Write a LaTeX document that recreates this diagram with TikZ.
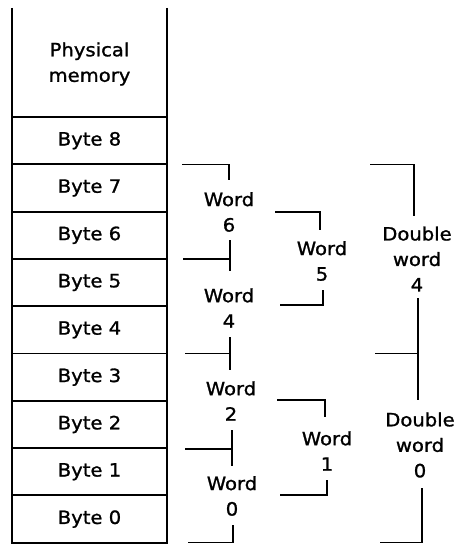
\documentclass[tikz,border=0pt]{standalone}
\usepackage{fontspec}
\setmainfont{DejaVu Sans}[FakeStretch=1.07, FakeBold=1.2]
\begin{document}
\begin{tikzpicture}[x=1pt,y=-1pt,
  lbl/.style={font=\fontsize{18.3}{25.5}\selectfont, align=center, inner sep=0pt},
  cell/.style={lbl, draw, line width=1.9pt, minimum width=155pt, minimum height=47.3pt},
  brk/.style={line width=1.4pt}]
\useasboundingbox (0,0) rectangle (460,545);

% memory column, open at the top
\draw[line width=1.9pt] (12,8) -- (12,542.7);
\draw[line width=1.9pt] (167,8) -- (167,542.7);
\node[lbl] (phys) at (89.5,64) {Physical\\memory};
\foreach \i in {8,...,0} {
  \pgfmathsetmacro{\cy}{117 + 47.3*(8-\i) + 23.65}
  \node[cell] (b\i) at (89.5,\cy) {Byte \i};
}

% word labels
\node[lbl] (w6) at (229,212) {Word\\6};
\node[lbl] (w4) at (229,308) {Word\\4};
\node[lbl] (w2) at (231,401) {Word\\2};
\node[lbl] (w0) at (232,496) {Word\\0};
\node[lbl] (w5) at (322,261) {Word\\5};
\node[lbl] (w1) at (327,451) {Word\\1};
\node[lbl] (d4) at (417,259) {Double\\word\\4};
\node[lbl] (d0) at (420,445) {Double\\word\\0};

% word brackets, first column
\draw[brk] (182,164.3) -- (229,164.3) -- (229,180);
\draw[brk] (183,258.9) -- (230,258.9);
\draw[brk] (230,240) -- (230,271);
\draw[brk] (185,353.5) -- (230,353.5);
\draw[brk] (230,337) -- (230,370);
\draw[brk] (185,449) -- (232,449);
\draw[brk] (232,430) -- (232,466);
\draw[brk] (188,542.5) -- (233,542.5) -- (233,525);

% word brackets, second column
\draw[brk] (275,212) -- (320,212) -- (320,230);
\draw[brk] (280,305) -- (323,305) -- (323,290);
\draw[brk] (277,400) -- (325,400) -- (325,417);
\draw[brk] (280,495) -- (327,495) -- (327,480);

% double word brackets
\draw[brk] (370,164.3) -- (414,164.3) -- (414,216);
\draw[brk] (418,298) -- (418,400);
\draw[brk] (375,353.5) -- (418,353.5);
\draw[brk] (380,542.5) -- (422,542.5) -- (422,488);
\end{tikzpicture}
\end{document}
